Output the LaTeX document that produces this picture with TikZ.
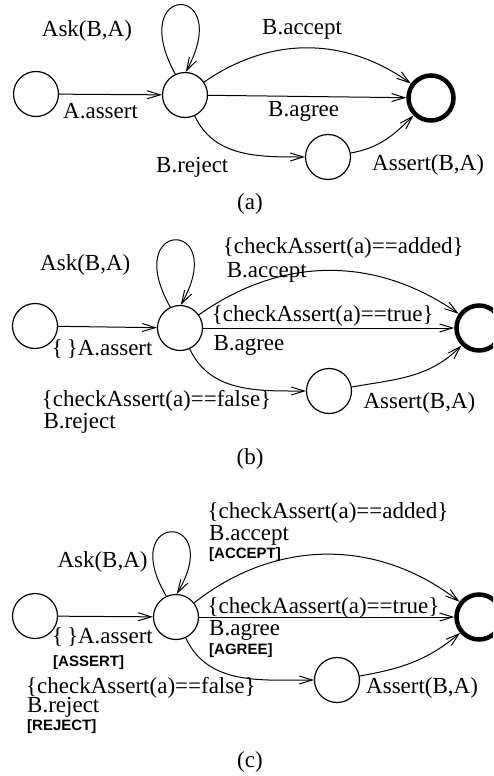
\documentclass[tikz,border=0pt]{standalone}
\usepackage{fontspec}
\setmainfont{Liberation Serif}
\setsansfont{Liberation Sans}
\usetikzlibrary{arrows.meta,calc}

\tikzset{
  st/.style={circle, draw, line width=1.2pt, minimum size=45pt, inner sep=0pt},
  fin/.style={st, line width=4.5pt},
  edge/.style={line width=1pt, -{Straight Barb[length=13pt,width=8pt,line width=1pt]}},
  lbl/.style={inner sep=0pt, anchor=base west, font=\fontsize{23}{27}\selectfont},
  tag/.style={inner sep=0pt, anchor=base west, font=\sffamily\bfseries\fontsize{15}{18}\selectfont},
  subcap/.style={inner sep=0pt, anchor=base, font=\fontsize{23}{27}\selectfont},
}

\begin{document}
\begin{tikzpicture}[x=1pt,y=1pt]
\useasboundingbox (0,0) rectangle (493,-776);
\clip (0,0) rectangle (493,-776);

% ---------- (a) ----------
\node[st]  (a1) at (36,-94)  {};
\node[st]  (a2) at (185,-95) {};
\node[st]  (a4) at (328,-157) {};
\node[fin] (a3) at (431,-98) {};

\draw[edge] (a1) -- (a2);
\draw[edge] (a2.115) .. controls ($(a2)+(-60,113)$) and ($(a2)+(50,113)$) .. (a2.88);
\draw[edge] (a2) to[bend left=35] (a3);
\draw[edge] (a2) -- (a3);
\draw[edge] (a2) to[out=-65,in=180] (a4);
\draw[edge] (a4) to[out=10,in=-135] (a3);

\node[lbl] (la1) at (41.7,-36.7) {Ask(B,A)};
\node[lbl] (la2) at (262,-35)   {B.accept};
\node[lbl] (la3) at (63,-118)   {A.assert};
\node[lbl] (la4) at (268,-116)  {B.agree};
\node[lbl] (la5) at (156,-172)  {B.reject};
\node[lbl] (la6) at (372,-170)  {Assert(B,A)};
\node[subcap] (capa) at (250,-209) {(a)};

% ---------- (b) ----------
\node[st]  (b1) at (35,-326)  {};
\node[st]  (b2) at (180,-328) {};
\node[st]  (b4) at (329,-391) {};
\node[fin] (b3) at (479,-328) {};

\draw[edge] (b1) -- (b2);
\draw[edge] (b2.115) .. controls ($(b2)+(-60,110)$) and ($(b2)+(50,110)$) .. (b2.88);
\draw[edge] (b2) to[bend left=35] (b3);
\draw[edge] (b2) -- (b3);
\draw[edge] (b2) to[out=-65,in=180] (b4);
\draw[edge] (b4) to[out=10,in=-135] (b3);

\node[lbl] (lb1) at (222.7,-253) {\{checkAssert(a)==added\}};
\node[lbl] (lb2) at (226.7,-277) {B.accept};
\node[lbl] (lb3) at (40,-270)    {Ask(B,A)};
\node[lbl] (lb4) at (211.7,-321.7) {\{checkAssert(a)==true\}};
\node[lbl] (lb5) at (213.3,-350) {B.agree};
\node[lbl] (lb6) at (51.7,-355)  {\{\,\}A.assert};
\node[lbl] (lb7) at (41.7,-406.7) {\{checkAssert(a)==false\}};
\node[lbl] (lb8) at (43.3,-428)  {B.reject};
\node[lbl] (lb9) at (363.3,-408) {Assert(B,A)};
\node[subcap] (capb) at (250,-464) {(b)};

% ---------- (c) ----------
\node[st]  (c1) at (35,-616)  {};
\node[st]  (c2) at (176,-617) {};
\node[st]  (c4) at (337,-680) {};
\node[fin] (c3) at (479,-617) {};

\draw[edge] (c1) -- (c2);
\draw[edge] (c2.115) .. controls ($(c2)+(-60,106)$) and ($(c2)+(50,106)$) .. (c2.88);
\draw[edge] (c2) to[bend left=38] (c3);
\draw[edge] (c2) -- (c3);
\draw[edge] (c2) to[out=-65,in=180] (c4);
\draw[edge] (c4) to[out=10,in=-140] (c3);

\node[lbl] (lc1) at (207.3,-518) {\{checkAssert(a)==added\}};
\node[lbl] (lc2) at (209,-540.7) {B.accept};
\node[tag] (lc3) at (209,-558)   {[ACCEPT]};
\node[lbl] (lc4) at (57.3,-567)  {Ask(B,A)};
\node[lbl] (lc5) at (207.3,-613) {\{checkAassert(a)==true\}};
\node[lbl] (lc6) at (209,-635)   {B.agree};
\node[tag] (lc7) at (209,-654)   {[AGREE]};
\node[lbl] (lc8) at (52,-643)    {\{\,\}A.assert};
\node[tag] (lc9) at (53,-666)    {[ASSERT]};
\node[lbl] (lc10) at (26,-693)   {\{checkAssert(a)==false\}};
\node[lbl] (lc11) at (27,-712)   {B.reject};
\node[tag] (lc12) at (27,-730)   {[REJECT]};
\node[lbl] (lc13) at (366,-693)  {Assert(B,A)};
\node[subcap] (capc) at (250,-767)  {(c)};
\end{tikzpicture}
\end{document}
